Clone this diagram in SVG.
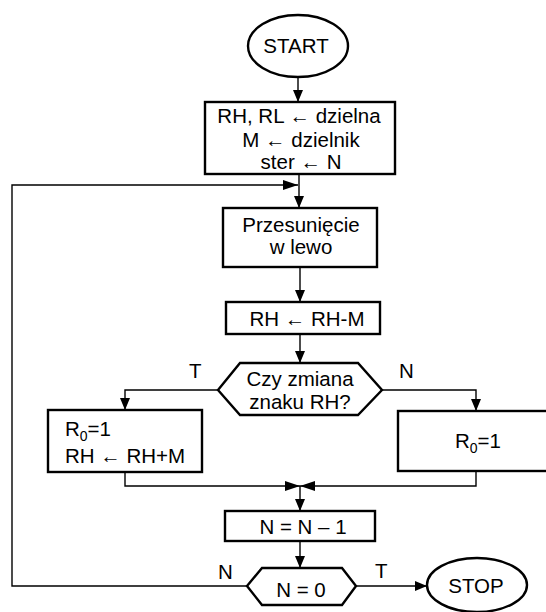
<svg xmlns="http://www.w3.org/2000/svg" width="546" height="612" viewBox="0 0 546 612">
<defs>
<marker id="ah" viewBox="0 0 12 10" refX="12" refY="5" markerWidth="12" markerHeight="10" markerUnits="userSpaceOnUse" orient="auto">
<path d="M0,0 L12,5 L0,10 Z" fill="#000"/>
</marker>
<marker id="ahl" viewBox="0 0 15 10" refX="15" refY="5" markerWidth="15" markerHeight="10" markerUnits="userSpaceOnUse" orient="auto">
<path d="M0,0 L15,5 L0,10 Z" fill="#000"/>
</marker>
</defs>
<style>
.s{fill:#fff;stroke:#000;stroke-width:2.4}
.c{fill:none;stroke:#000;stroke-width:1.4}
.a{marker-end:url(#ah)}
.al{marker-end:url(#ahl)}
text{font-family:"Liberation Sans",Arial,sans-serif;font-size:20.5px;fill:#000}
.m{text-anchor:middle}
</style>
<rect width="546" height="612" fill="#fff"/>
<g id="connectors">
<path class="c a" d="M298,77 V102"/>
<path class="c" d="M299,174 V185"/>
<path class="c al" d="M247,586 H12 V185 H298"/>
<path class="c a" d="M299,185 V208"/>
<path class="c a" d="M300,267 V302"/>
<path class="c a" d="M300,334 V363"/>
<path class="c a" d="M218,390 H125 V410"/>
<path class="c a" d="M382,390 H476 V411"/>
<path class="c al" d="M125,472 V486 H300"/>
<path class="c al" d="M476,471 V486 H300"/>
<path class="c a" d="M300,486 V511"/>
<path class="c a" d="M300,541 V568"/>
<path class="c a" d="M356,586 H427"/>
</g>
<g id="start">
<ellipse class="s" cx="298" cy="46" rx="50" ry="31"/>
<text class="m" x="296" y="53">START</text>
</g>
<g id="init">
<rect class="s" x="205" y="102" width="190" height="72"/>
<text class="m" x="299" y="123">RH, RL ← dzielna</text>
<text class="m" x="301" y="147">M ← dzielnik</text>
<text class="m" x="301" y="169">ster ← N</text>
</g>
<g id="shift">
<rect class="s" x="223" y="208" width="154" height="59"/>
<text class="m" x="301" y="232">Przesunięcie</text>
<text class="m" x="301" y="254">w lewo</text>
</g>
<g id="sub">
<rect class="s" x="226" y="302" width="154" height="32"/>
<text class="m" x="307" y="326">RH ← RH-M</text>
</g>
<g id="decision1">
<polygon class="s" points="218,390 240,363 358,363 382,390 358,415 240,415"/>
<text class="m" x="300" y="386">Czy zmiana</text>
<text class="m" x="300" y="409">znaku RH?</text>
<text x="189" y="378">T</text>
<text x="399" y="378">N</text>
</g>
<g id="restore">
<rect class="s" x="48" y="410" width="154" height="62"/>
<text x="65" y="436">R<tspan font-size="14" dy="5">0</tspan><tspan dy="-5">=1</tspan></text>
<text x="65" y="463">RH ← RH+M</text>
</g>
<g id="set">
<rect class="s" x="398" y="411" width="160" height="60"/>
<text x="455" y="448">R<tspan font-size="14" dy="5">0</tspan><tspan dy="-5">=1</tspan></text>
</g>
<g id="dec">
<rect class="s" x="225" y="511" width="150" height="30"/>
<text class="m" x="303" y="534">N = N – 1</text>
</g>
<g id="decision2">
<polygon class="s" points="247,586 262,568 342,568 356,586 342,605 262,605"/>
<text class="m" x="301" y="597">N = 0</text>
<text x="218" y="579">N</text>
<text x="375" y="578">T</text>
</g>
<g id="stop">
<ellipse class="s" cx="477" cy="585" rx="50" ry="27"/>
<text class="m" x="476" y="593">STOP</text>
</g>
</svg>
